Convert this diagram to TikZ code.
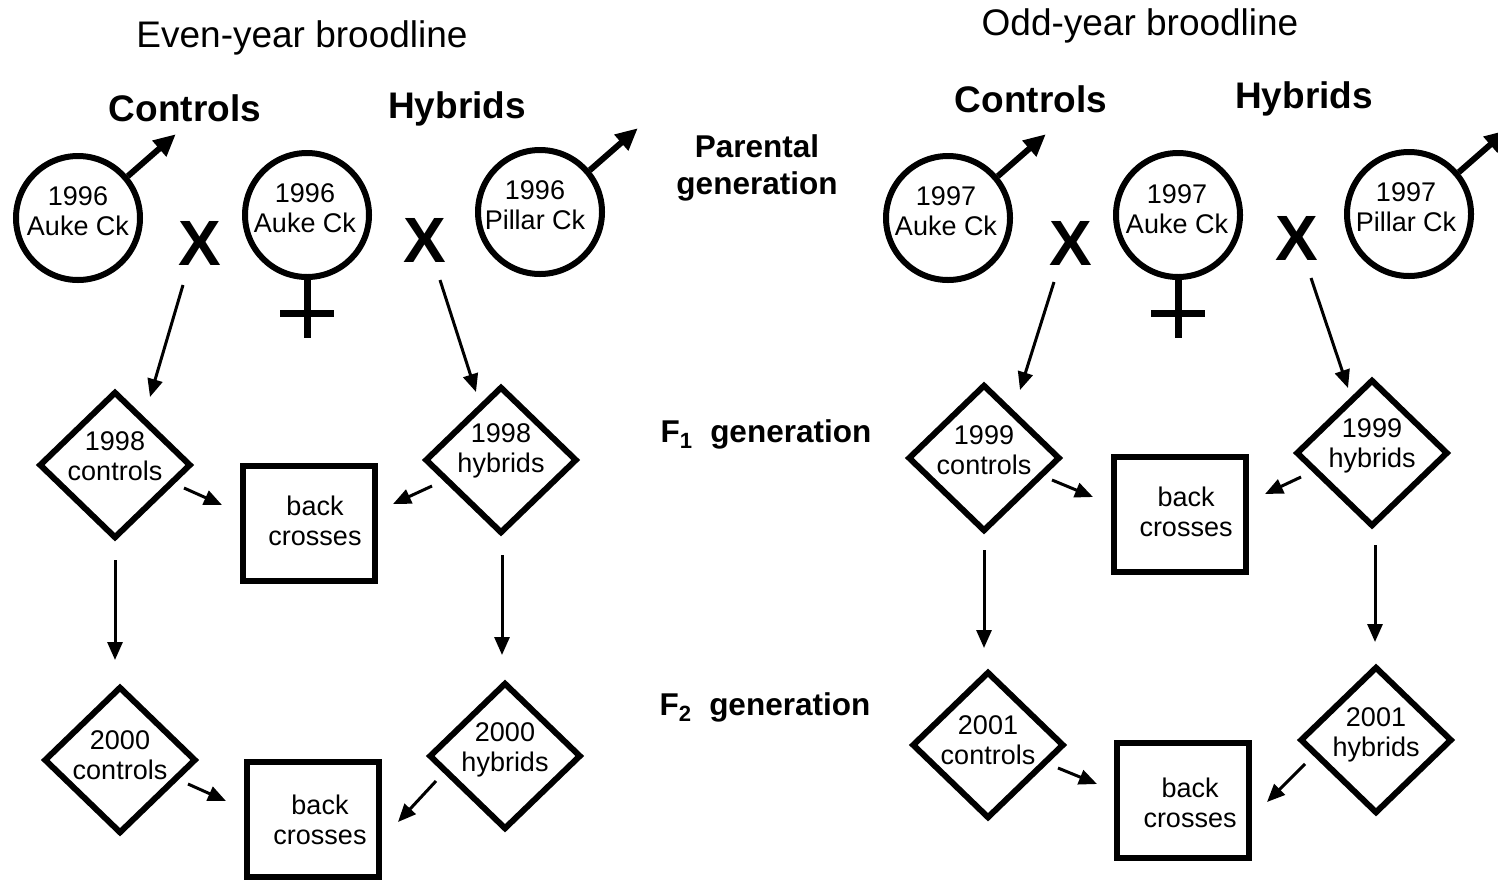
\documentclass[tikz,border=0pt]{standalone}
\usepackage{fontspec}
\setmainfont{Liberation Sans}
\usetikzlibrary{shapes.geometric,arrows.meta}
\begin{document}
\begin{tikzpicture}[x=1pt,y=-1pt,
  circ/.style={circle,draw,line width=6pt,minimum size=124pt,inner sep=0pt},
  dia/.style={diamond,draw,line width=6pt,minimum width=152pt,minimum height=147pt,inner sep=0pt},
  boxn/.style={rectangle,draw,line width=6pt,minimum width=132pt,minimum height=115pt,inner sep=0pt},
  ntext/.style={font=\fontsize{27}{30.5}\selectfont,align=center,inner sep=0pt},
  head/.style={font=\fontsize{37}{42}\selectfont,anchor=base,inner sep=0pt},
  bhead/.style={font=\bfseries\fontsize{37}{42}\selectfont,anchor=base,inner sep=0pt},
  gen/.style={font=\bfseries\fontsize{31.5}{37}\selectfont,anchor=base,align=center,inner sep=0pt},
  cross/.style={font=\bfseries\fontsize{64}{70}\selectfont,inner sep=0pt},
  arr/.style={line width=3pt,-{Triangle[length=18pt,width=15pt]}},
  male/.style={line width=6pt,-{Triangle[length=22pt,width=20pt]}},
  fem/.style={line width=7pt},
]
\useasboundingbox (0,0) rectangle (1498,884);
\fill[white] (0,0) rectangle (1498,884);

% ---------- headings ----------
\node[head] (tEven) at (302,47) {Even-year broodline};
\node[head] (tOdd) at (1140,35) {Odd-year broodline};
\node[bhead] (tC1) at (185,121) {Controls};
\node[bhead] (tH1) at (457,118) {Hybrids};
\node[bhead] (tC2) at (1031,112) {Controls};
\node[bhead] (tH2) at (1304,108) {Hybrids};
\node[gen] (gP) at (757,194) {Parental\\generation};
\node[gen] (gF1) at (766,442) {F\textsubscript{1}\ \ generation};
\node[gen] (gF2) at (765,715) {F\textsubscript{2}\ \ generation};

% ---------- even-year: parental ----------
\node[circ] (c1) at (78,218) {};
\node[ntext] (c1t) at (78,211) {1996\\Auke Ck};
\node[circ] (c2) at (307,215) {};
\node[ntext] (c2t) at (305,208) {1996\\Auke Ck};
\node[circ] (c3) at (540,212) {};
\node[ntext] (c3t) at (535,205) {1996\\Pillar Ck};
\node[cross] (x1) at (200,243) {X};
\node[cross] (x2) at (425,240) {X};
\draw[male] (c1.40) -- ++(48,-42);
\draw[male] (c3.40) -- ++(48,-42);
\draw[fem] (c2.south) -- ++(0,58);
\draw[fem] ([shift={(-27,33)}]c2.south) -- ++(54,0);

% ---------- even-year: F1 / F2 ----------
\node[dia] (d1) at (115,465) {};
\node[ntext] (d1t) at (115,456) {1998\\controls};
\node[dia] (d2) at (501,460) {};
\node[ntext] (d2t) at (501,451) {1998\\hybrids};
\node[boxn] (b1) at (309,523) {};
\node[ntext] (b1t) at (315,521) {back\\crosses};
\node[dia] (d3) at (120,760) {};
\node[ntext] (d3t) at (120,755) {2000\\controls};
\node[dia] (d4) at (505,756) {};
\node[ntext] (d4t) at (505,750) {2000\\hybrids};
\node[boxn] (b2) at (313,819) {};
\node[ntext] (b2t) at (320,820) {back\\crosses};

\draw[arr] ([shift={(-17,42)}]x1.center) -- ([shift={(35,-68)}]d1.center);
\draw[arr] ([shift={(15,40)}]x2.center) -- ([shift={(-25,-68)}]d2.center);
\draw[arr] ([shift={(69,23)}]d1.center) -- ([shift={(-87,-18)}]b1.center);
\draw[arr] ([shift={(-69,26)}]d2.center) -- ([shift={(84,-19)}]b1.center);
\draw[arr] ([shift={(0,95)}]d1.center) -- ([shift={(-5,-100)}]d3.center);
\draw[arr] ([shift={(1,95)}]d2.center) -- ([shift={(-3,-101)}]d4.center);
\draw[arr] ([shift={(68,24)}]d3.center) -- ([shift={(-87,-18)}]b2.center);
\draw[arr] ([shift={(-69,25)}]d4.center) -- ([shift={(85,3)}]b2.center);

% ---------- odd-year: parental ----------
\node[circ] (c4) at (948,218) {};
\node[ntext] (c4t) at (946,211) {1997\\Auke Ck};
\node[circ] (c5) at (1178,215) {};
\node[ntext] (c5t) at (1177,209) {1997\\Auke Ck};
\node[circ] (c6) at (1409,214) {};
\node[ntext] (c6t) at (1406,207) {1997\\Pillar Ck};
\node[cross] (x3) at (1071,243) {X};
\node[cross] (x4) at (1297,238) {X};
\draw[male] (c4.40) -- ++(48,-42);
\draw[male] (c6.40) -- ++(48,-42);
\draw[fem] (c5.south) -- ++(0,58);
\draw[fem] ([shift={(-27,33)}]c5.south) -- ++(54,0);

% ---------- odd-year: F1 / F2 ----------
\node[dia] (d5) at (984,458) {};
\node[ntext] (d5t) at (984,450) {1999\\controls};
\node[dia] (d6) at (1372,453) {};
\node[ntext] (d6t) at (1372,446) {1999\\hybrids};
\node[boxn] (b3) at (1180,514) {};
\node[ntext] (b3t) at (1186,512) {back\\crosses};
\node[dia] (d7) at (988,745) {};
\node[ntext] (d7t) at (988,740) {2001\\controls};
\node[dia] (d8) at (1376,740) {};
\node[ntext] (d8t) at (1376,735) {2001\\hybrids};
\node[boxn] (b4) at (1183,800) {};
\node[ntext] (b4t) at (1190,803) {back\\crosses};

\draw[arr] ([shift={(-17,39)}]x3.center) -- ([shift={(36,-68)}]d5.center);
\draw[arr] ([shift={(14,40)}]x4.center) -- ([shift={(-24,-65)}]d6.center);
\draw[arr] ([shift={(68,22)}]d5.center) -- ([shift={(-87,-17)}]b3.center);
\draw[arr] ([shift={(-71,24)}]d6.center) -- ([shift={(85,-20)}]b3.center);
\draw[arr] ([shift={(0,92)}]d5.center) -- ([shift={(-4,-97)}]d7.center);
\draw[arr] ([shift={(3,92)}]d6.center) -- ([shift={(-1,-98)}]d8.center);
\draw[arr] ([shift={(70,23)}]d7.center) -- ([shift={(-86,-16)}]b4.center);
\draw[arr] ([shift={(-71,24)}]d8.center) -- ([shift={(84,2)}]b4.center);
\end{tikzpicture}
\end{document}
